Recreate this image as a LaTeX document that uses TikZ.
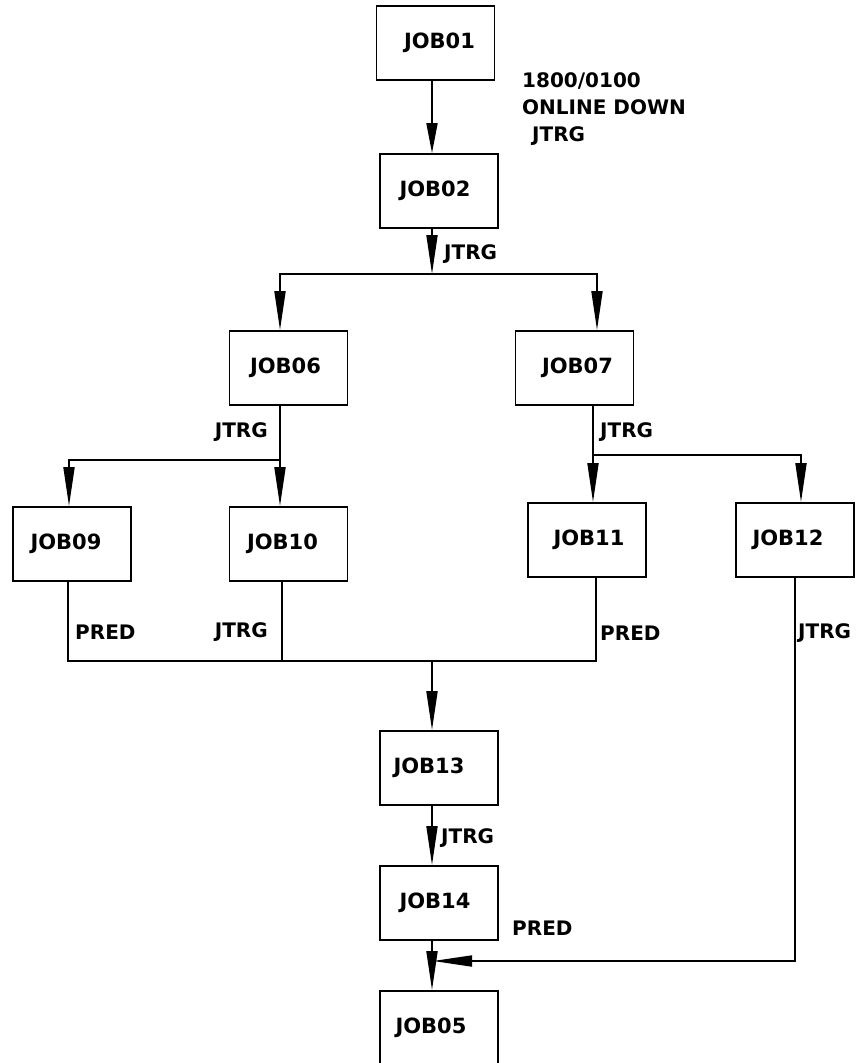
\documentclass[tikz,border=0pt]{standalone}
\usepackage{fontspec}
\setmainfont{DejaVu Sans}
\usetikzlibrary{arrows.meta}
\newcommand{\shtxt}[2]{\makebox[0pt]{\hspace*{#1}\hspace*{#1}#2}}
\begin{document}
\begin{tikzpicture}[x=1pt,y=-1pt,
  box/.style={draw, line width=1.8pt, minimum width=118pt, minimum height=74pt, inner sep=0pt, font=\bfseries\fontsize{21}{24}\selectfont},
  lbl/.style={inner sep=0pt, font=\bfseries\fontsize{20}{27}\selectfont},
  conn/.style={line width=1.8pt},
  arr/.style={conn, -{Triangle[length=39pt,width=11pt]}},
  arrshort/.style={conn, -{Triangle[length=30pt,width=11pt]}},
]
\useasboundingbox (0,0) rectangle (861,1063);
\clip (0,0) rectangle (861,1063);
\fill[white] (0,0) rectangle (861,1063);
% boxes
\node[box] (j01) at (435.5,43) {\shtxt{4pt}{JOB01}};
\node[box] (j02) at (439,191) {\shtxt{-4pt}{JOB02}};
\node[box] (j06) at (288.5,368) {\shtxt{-3pt}{JOB06}};
\node[box] (j07) at (574.5,368) {\shtxt{3pt}{JOB07}};
\node[box] (j09) at (72,544) {\shtxt{-6pt}{JOB09}};
\node[box] (j10) at (288.5,544) {\shtxt{-6pt}{JOB10}};
\node[box] (j11) at (587,540) {\shtxt{2pt}{JOB11}};
\node[box] (j12) at (795,540) {\shtxt{-7pt}{JOB12}};
\node[box] (j13) at (439,768) {\shtxt{-10pt}{JOB13}};
\node[box] (j14) at (439,903) {\shtxt{-4pt}{JOB14}};
\node[box] (j05) at (439,1028) {\shtxt{-8pt}{JOB05}};
% junction coordinates
\coordinate (xa) at (432,0);
\coordinate (b1) at (432,274);
\coordinate (b1l) at (280,274);
\coordinate (b1r) at (597,274);
\coordinate (b2) at (280,460);
\coordinate (b2l) at (69,460);
\coordinate (b3) at (593,455);
\coordinate (b3r) at (801,455);
\coordinate (c9) at (68,661);
\coordinate (c10) at (282,661);
\coordinate (c11) at (596,661);
\coordinate (c13) at (432,661);
\coordinate (c12) at (795,961);
\coordinate (c5) at (433,961);
% connectors
\draw[arrshort] (j01.south -| xa) -- (j02.north -| xa);
\draw[arr] (j02.south -| b1) -- (b1);
\draw[arr] (b1) -- (b1l) -- (j06.north -| b1l);
\draw[arr] (b1) -- (b1r) -- (j07.north -| b1r);
\draw[arr] (j06.south -| b2) -- (j10.north -| b2);
\draw[arr] (b2) -- (b2l) -- (j09.north -| b2l);
\draw[arr] (j07.south -| b3) -- (j11.north -| b3);
\draw[arr] (b3) -- (b3r) -- (j12.north -| b3r);
\draw[conn] (j09.south -| c9) -- (c9) -- (c11) -- (j11.south -| c11);
\draw[conn] (j10.south -| c10) -- (c10);
\draw[arr] (c13) -- (j13.north -| c13);
\draw[arr] (j13.south -| xa) -- (j14.north -| xa);
\draw[arr] (j14.south -| xa) -- (j05.north -| xa);
\draw[arr] (j12.south -| c12) -- (c12) -- (c5);
% labels
\node[lbl, align=left, anchor=north west] (t1) at (522,72) {1800/0100\\ONLINE DOWN\\\hspace*{10pt}JTRG};
\node[lbl, anchor=west] (t2) at (444,254) {JTRG};
\node[lbl, anchor=east] (t3) at (268,432) {JTRG};
\node[lbl, anchor=west] (t4) at (600,432) {JTRG};
\node[lbl, anchor=west] (t5) at (75,632) {PRED};
\node[lbl, anchor=east] (t6) at (268,632) {JTRG};
\node[lbl, anchor=west] (t7) at (600,633) {PRED};
\node[lbl, anchor=west] (t8) at (798,633) {JTRG};
\node[lbl, anchor=west] (t9) at (441,838) {JTRG};
\node[lbl, anchor=west] (t10) at (512,928) {PRED};
\end{tikzpicture}
\end{document}
